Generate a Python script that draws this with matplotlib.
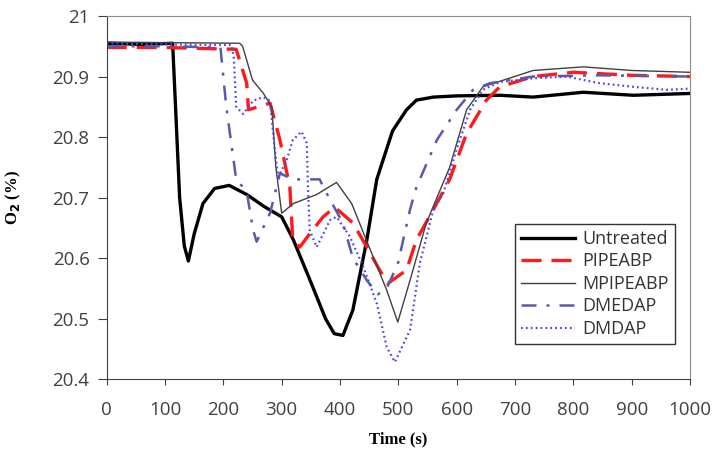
import matplotlib.pyplot as plt

# data
t_untreated = [0, 60, 113, 118, 125, 133, 140, 150, 165, 185, 210, 240, 270, 300, 320, 350, 375, 390, 405, 422,
               446, 463, 490, 514, 531, 560, 600, 674, 731, 817, 903, 1000]
o2_untreated = [20.955, 20.953, 20.955, 20.85, 20.70, 20.62, 20.595, 20.64, 20.69, 20.715, 20.72, 20.705, 20.685,
                20.668, 20.63, 20.56, 20.5, 20.475, 20.472, 20.514, 20.63, 20.73, 20.81, 20.845, 20.861, 20.866,
                20.868, 20.869, 20.866, 20.874, 20.869, 20.872]

t_pipeabp = [0, 100, 222, 240, 243, 260, 280, 297, 314, 319, 331, 348, 371, 391, 422, 446, 468, 482, 514, 531,
             560, 588, 617, 651, 674, 731, 800, 900, 1000]
o2_pipeabp = [20.948, 20.948, 20.945, 20.889, 20.845, 20.85, 20.856, 20.795, 20.717, 20.63, 20.618, 20.64,
              20.668, 20.684, 20.658, 20.618, 20.58, 20.558, 20.58, 20.63, 20.68, 20.73, 20.806, 20.861, 20.883,
              20.9, 20.907, 20.902, 20.9]

t_mpipeabp = [0, 100, 228, 233, 250, 268, 283, 290, 300, 320, 360, 394, 420, 445, 480, 499, 520, 548, 588, 617,
              645, 731, 817, 900, 1000]
o2_mpipeabp = [20.957, 20.956, 20.955, 20.95, 20.894, 20.873, 20.85, 20.75, 20.674, 20.69, 20.705, 20.725,
               20.69, 20.63, 20.547, 20.494, 20.563, 20.658, 20.75, 20.845, 20.883, 20.91, 20.916, 20.91, 20.907]

t_dmedap = [0, 100, 195, 205, 222, 240, 251, 257, 280, 297, 319, 365, 383, 405, 422, 446, 465, 480, 499, 520,
            531, 566, 600, 628, 657, 731, 845, 1000]
o2_dmedap = [20.95, 20.95, 20.948, 20.85, 20.73, 20.71, 20.646, 20.627, 20.674, 20.74, 20.73, 20.73, 20.696,
             20.658, 20.6, 20.563, 20.54, 20.55, 20.59, 20.68, 20.717, 20.795, 20.845, 20.878, 20.889, 20.9,
             20.902, 20.9]

t_dmdap = [0, 100, 214, 218, 222, 234, 251, 268, 280, 288, 294, 308, 319, 334, 343, 345, 348, 360, 383, 394,
           417, 440, 463, 480, 494, 520, 537, 560, 577, 600, 623, 645, 674, 731, 788, 845, 903, 960, 1000]
o2_dmdap = [20.955, 20.953, 20.952, 20.93, 20.85, 20.838, 20.86, 20.866, 20.86, 20.78, 20.734, 20.76, 20.795,
            20.809, 20.79, 20.717, 20.646, 20.618, 20.663, 20.668, 20.635, 20.585, 20.525, 20.453, 20.428,
            20.481, 20.592, 20.68, 20.707, 20.78, 20.845, 20.878, 20.891, 20.897, 20.9, 20.889, 20.883, 20.878,
            20.88]

x_ticks = [0, 100, 200, 300, 400, 500, 600, 700, 800, 900, 1000]
y_ticks = [20.4, 20.5, 20.6, 20.7, 20.8, 20.9, 21.0]
y_tick_labels = ['20.4', '20.5', '20.6', '20.7', '20.8', '20.9', '21']

fig = plt.figure(figsize=(7.21, 4.58), dpi=100)
ax = fig.add_axes([0.148, 0.1725, 0.809, 0.7925])

ax.plot(t_untreated, o2_untreated, color='black', lw=2.4, label='Untreated')
ax.plot(t_pipeabp, o2_pipeabp, color='#ff1a1a', lw=2.4, dashes=(6, 3), label='PIPEABP')
ax.plot(t_mpipeabp, o2_mpipeabp, color='#404040', lw=1.0, label='MPIPEABP')
ax.plot(t_dmedap, o2_dmedap, color='#5a5aa8', lw=1.8, dashes=(6, 4, 1.2, 4), label='DMEDAP')
ax.plot(t_dmdap, o2_dmdap, color='#4a4ae6', lw=1.6, dashes=(0.8, 1.4), label='DMDAP')

ax.set_xlim(0, 1000)
ax.set_ylim(20.4, 21.0)
ax.set_xticks(x_ticks)
ax.set_yticks(y_ticks)
ax.set_yticklabels(y_tick_labels)
ax.tick_params(direction='out', color='#404040', labelsize=13.5, labelcolor='#404040')
ax.tick_params(axis='x', length=4.3, pad=11.5)
ax.tick_params(axis='y', length=6.5, pad=5.8)
for lab in ax.get_xticklabels() + ax.get_yticklabels():
    lab.set_family('Open Sans')

for side in ['top', 'right']:
    ax.spines[side].set_color('#8c8c8c')
for side in ['left', 'bottom']:
    ax.spines[side].set_color('#404040')

ax.set_xlabel('Time (s)', family='Liberation Serif', fontweight='bold', fontsize=12, labelpad=9)
ax.set_ylabel(r'O$_\mathbf{2}$ (%)', family='Liberation Serif', fontweight='bold', fontsize=12, labelpad=21)

leg = ax.legend(loc='lower right', bbox_to_anchor=(0.99, 0.071), fancybox=False, edgecolor='black',
                handlelength=3.0, handletextpad=0.4, labelspacing=0.25, borderpad=0.35,
                prop={'family': 'Open Sans', 'size': 13})
leg.get_frame().set_linewidth(1.0)
for txt in leg.get_texts():
    txt.set_color('#333333')

fig.savefig('out.png', dpi=100)
